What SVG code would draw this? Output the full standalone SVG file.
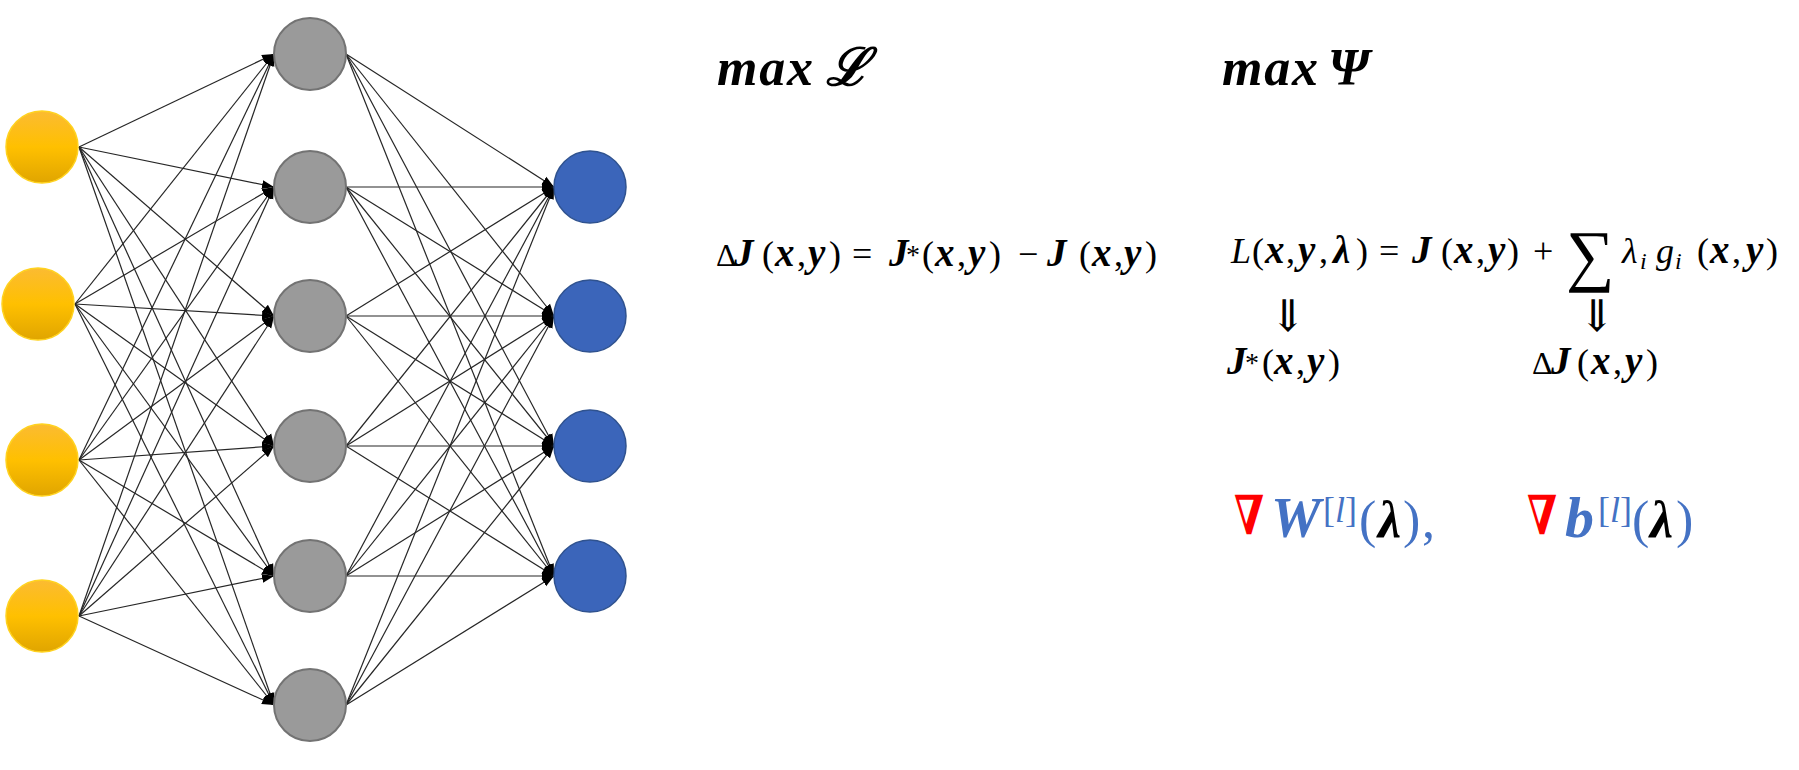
<svg xmlns="http://www.w3.org/2000/svg" width="1799" height="770" viewBox="0 0 1799 770">
<defs>
<style>
.edge{stroke:#262626;stroke-width:1.2;fill:none;marker-end:url(#ah)}
.in{fill:url(#yg);stroke:#FFD21F;stroke-width:1.5}
.hid{fill:#9A9A9A;stroke:#737373;stroke-width:2}
.out{fill:#3B65BA;stroke:#2F528F;stroke-width:1.5}
.m{font-family:"Liberation Serif","DejaVu Serif",serif;fill:#000;font-size:36px}
.bi{font-weight:bold;font-style:italic;font-size:39px}
.it{font-style:italic}
.sup{font-size:28px}
.sub{font-size:24px;font-style:italic}
.big{font-size:52px}
.blue{fill:#4472C4}
.red{fill:#FF0000;font-weight:bold}
.arr{font-family:"DejaVu Sans","DejaVu Serif",sans-serif;font-weight:200;font-size:44px;fill:#000}
</style>
<linearGradient id="yg" x1="0" y1="0" x2="0" y2="1">
<stop offset="0" stop-color="#FBBB32"/>
<stop offset="0.5" stop-color="#FFC000"/>
<stop offset="1" stop-color="#E0A500"/>
</linearGradient>
<marker id="ah" markerUnits="userSpaceOnUse" markerWidth="13" markerHeight="11" refX="12" refY="5.5" orient="auto">
<path d="M0,1 L12,5.5 L0,10 z" fill="#000"/>
</marker>
</defs>
<rect width="1799" height="770" fill="#fff"/>
<g id="connectors">
<line class="edge" x1="79" y1="147" x2="274" y2="54"/>
<line class="edge" x1="79" y1="147" x2="274" y2="187"/>
<line class="edge" x1="79" y1="147" x2="274" y2="316"/>
<line class="edge" x1="79" y1="147" x2="274" y2="446"/>
<line class="edge" x1="79" y1="147" x2="274" y2="576"/>
<line class="edge" x1="79" y1="147" x2="274" y2="705"/>
<line class="edge" x1="75" y1="304" x2="274" y2="54"/>
<line class="edge" x1="75" y1="304" x2="274" y2="187"/>
<line class="edge" x1="75" y1="304" x2="274" y2="316"/>
<line class="edge" x1="75" y1="304" x2="274" y2="446"/>
<line class="edge" x1="75" y1="304" x2="274" y2="576"/>
<line class="edge" x1="75" y1="304" x2="274" y2="705"/>
<line class="edge" x1="79" y1="460" x2="274" y2="54"/>
<line class="edge" x1="79" y1="460" x2="274" y2="187"/>
<line class="edge" x1="79" y1="460" x2="274" y2="316"/>
<line class="edge" x1="79" y1="460" x2="274" y2="446"/>
<line class="edge" x1="79" y1="460" x2="274" y2="576"/>
<line class="edge" x1="79" y1="460" x2="274" y2="705"/>
<line class="edge" x1="79" y1="616" x2="274" y2="54"/>
<line class="edge" x1="79" y1="616" x2="274" y2="187"/>
<line class="edge" x1="79" y1="616" x2="274" y2="316"/>
<line class="edge" x1="79" y1="616" x2="274" y2="446"/>
<line class="edge" x1="79" y1="616" x2="274" y2="576"/>
<line class="edge" x1="79" y1="616" x2="274" y2="705"/>
<line class="edge" x1="346" y1="54" x2="554" y2="187"/>
<line class="edge" x1="346" y1="54" x2="554" y2="316"/>
<line class="edge" x1="346" y1="54" x2="554" y2="446"/>
<line class="edge" x1="346" y1="54" x2="554" y2="576"/>
<line class="edge" x1="346" y1="187" x2="554" y2="187"/>
<line class="edge" x1="346" y1="187" x2="554" y2="316"/>
<line class="edge" x1="346" y1="187" x2="554" y2="446"/>
<line class="edge" x1="346" y1="187" x2="554" y2="576"/>
<line class="edge" x1="346" y1="316" x2="554" y2="187"/>
<line class="edge" x1="346" y1="316" x2="554" y2="316"/>
<line class="edge" x1="346" y1="316" x2="554" y2="446"/>
<line class="edge" x1="346" y1="316" x2="554" y2="576"/>
<line class="edge" x1="346" y1="446" x2="554" y2="187"/>
<line class="edge" x1="346" y1="446" x2="554" y2="316"/>
<line class="edge" x1="346" y1="446" x2="554" y2="446"/>
<line class="edge" x1="346" y1="446" x2="554" y2="576"/>
<line class="edge" x1="346" y1="576" x2="554" y2="187"/>
<line class="edge" x1="346" y1="576" x2="554" y2="316"/>
<line class="edge" x1="346" y1="576" x2="554" y2="446"/>
<line class="edge" x1="346" y1="576" x2="554" y2="576"/>
<line class="edge" x1="346" y1="705" x2="554" y2="187"/>
<line class="edge" x1="346" y1="705" x2="554" y2="316"/>
<line class="edge" x1="346" y1="705" x2="554" y2="446"/>
<line class="edge" x1="346" y1="705" x2="554" y2="576"/>
</g>
<g id="in1"><circle class="in" cx="42" cy="147" r="36"/></g>
<g id="in2"><circle class="in" cx="38" cy="304" r="36"/></g>
<g id="in3"><circle class="in" cx="42" cy="460" r="36"/></g>
<g id="in4"><circle class="in" cx="42" cy="616" r="36"/></g>
<g id="h1"><circle class="hid" cx="310" cy="54" r="36"/></g>
<g id="h2"><circle class="hid" cx="310" cy="187" r="36"/></g>
<g id="h3"><circle class="hid" cx="310" cy="316" r="36"/></g>
<g id="h4"><circle class="hid" cx="310" cy="446" r="36"/></g>
<g id="h5"><circle class="hid" cx="310" cy="576" r="36"/></g>
<g id="h6"><circle class="hid" cx="310" cy="705" r="36"/></g>
<g id="o1"><circle class="out" cx="590" cy="187" r="36"/></g>
<g id="o2"><circle class="out" cx="590" cy="316" r="36"/></g>
<g id="o3"><circle class="out" cx="590" cy="446" r="36"/></g>
<g id="o4"><circle class="out" cx="590" cy="576" r="36"/></g>

<g id="maxL">
<text class="m" y="85" style="font-size:52px;font-weight:bold;font-style:italic"><tspan x="717" textLength="96">max</tspan><tspan x="826">ℒ</tspan></text>
</g>
<g id="maxPsi">
<text class="m" y="85" style="font-size:52px;font-weight:bold;font-style:italic"><tspan x="1222" textLength="96">max</tspan><tspan x="1328">Ψ</tspan></text>
</g>

<g id="eq-deltaJ">
<text class="m" y="266"><tspan x="716" style="font-size:32px">Δ</tspan><tspan x="734" class="bi">J</tspan><tspan x="762">(</tspan><tspan x="775" class="bi">x</tspan><tspan x="797">,</tspan><tspan x="808" class="bi">y</tspan><tspan x="829">)</tspan><tspan x="852">=</tspan><tspan x="889" class="bi">J</tspan><tspan x="906" y="264" class="sup">*</tspan><tspan x="922" y="266">(</tspan><tspan x="935" class="bi">x</tspan><tspan x="957">,</tspan><tspan x="968" class="bi">y</tspan><tspan x="989">)</tspan><tspan x="1018">−</tspan><tspan x="1047" class="bi">J</tspan><tspan x="1079">(</tspan><tspan x="1092" class="bi">x</tspan><tspan x="1114">,</tspan><tspan x="1124" class="bi">y</tspan><tspan x="1145">)</tspan></text>
</g>

<g id="eq-lagrange">
<text class="m" y="263"><tspan x="1231" class="it">L</tspan><tspan x="1252">(</tspan><tspan x="1265" class="bi">x</tspan><tspan x="1286">,</tspan><tspan x="1298" class="bi">y</tspan><tspan x="1319">,</tspan><tspan x="1333" class="bi">λ</tspan><tspan x="1356">)</tspan><tspan x="1379">=</tspan><tspan x="1412" class="bi">J</tspan><tspan x="1441">(</tspan><tspan x="1454" class="bi">x</tspan><tspan x="1476">,</tspan><tspan x="1488" class="bi">y</tspan><tspan x="1507">)</tspan><tspan x="1533">+</tspan><tspan x="1622" class="it">λ</tspan><tspan x="1640" y="269" class="sub">i</tspan><tspan x="1656" y="263" class="it">g</tspan><tspan x="1675" y="269" class="sub">i</tspan><tspan x="1697" y="263">(</tspan><tspan x="1710" class="bi">x</tspan><tspan x="1732">,</tspan><tspan x="1746" class="bi">y</tspan><tspan x="1766">)</tspan></text>
<text class="m" x="1566" y="278" style="font-size:68px">∑</text>
</g>

<g id="arrow1"><text class="arr" x="1288" y="331" text-anchor="middle">⇓</text></g>
<g id="arrow2"><text class="arr" x="1597" y="331" text-anchor="middle">⇓</text></g>

<g id="jstar">
<text class="m" y="374"><tspan x="1227" class="bi">J</tspan><tspan x="1245" y="372" class="sup">*</tspan><tspan x="1262" y="374">(</tspan><tspan x="1274" class="bi">x</tspan><tspan x="1296">,</tspan><tspan x="1307" class="bi">y</tspan><tspan x="1328">)</tspan></text>
</g>
<g id="deltaJ2">
<text class="m" y="374"><tspan x="1532" style="font-size:32px">Δ</tspan><tspan x="1551" class="bi">J</tspan><tspan x="1577">(</tspan><tspan x="1591" class="bi">x</tspan><tspan x="1613">,</tspan><tspan x="1625" class="bi">y</tspan><tspan x="1646">)</tspan></text>
</g>

<g id="gradW">
<text class="m" y="534"><tspan x="1234" class="red" style="font-size:54px" textLength="30" lengthAdjust="spacingAndGlyphs">∇</tspan></text>
<text class="m big" y="537"><tspan x="1271" class="blue" style="font-size:56px;font-weight:bold;font-style:italic">W</tspan><tspan x="1323" y="522" class="blue" style="font-size:36px">[</tspan><tspan class="blue it" style="font-size:36px">l</tspan><tspan class="blue" style="font-size:36px">]</tspan><tspan x="1359" y="537" class="blue">(</tspan><tspan x="1378" style="font-size:52px;font-weight:bold;font-style:italic">λ</tspan><tspan x="1403" class="blue">)</tspan><tspan x="1422" class="blue">,</tspan></text>
</g>
<g id="gradB">
<text class="m" y="534"><tspan x="1527" class="red" style="font-size:54px" textLength="30" lengthAdjust="spacingAndGlyphs">∇</tspan></text>
<text class="m big" y="537"><tspan x="1565" class="blue" style="font-size:58px;font-weight:bold;font-style:italic">b</tspan><tspan x="1598" y="522" class="blue" style="font-size:36px">[</tspan><tspan class="blue it" style="font-size:36px">l</tspan><tspan class="blue" style="font-size:36px">]</tspan><tspan x="1632" y="537" class="blue">(</tspan><tspan x="1650" style="font-size:52px;font-weight:bold;font-style:italic">λ</tspan><tspan x="1676" class="blue">)</tspan></text>
</g>
</svg>
